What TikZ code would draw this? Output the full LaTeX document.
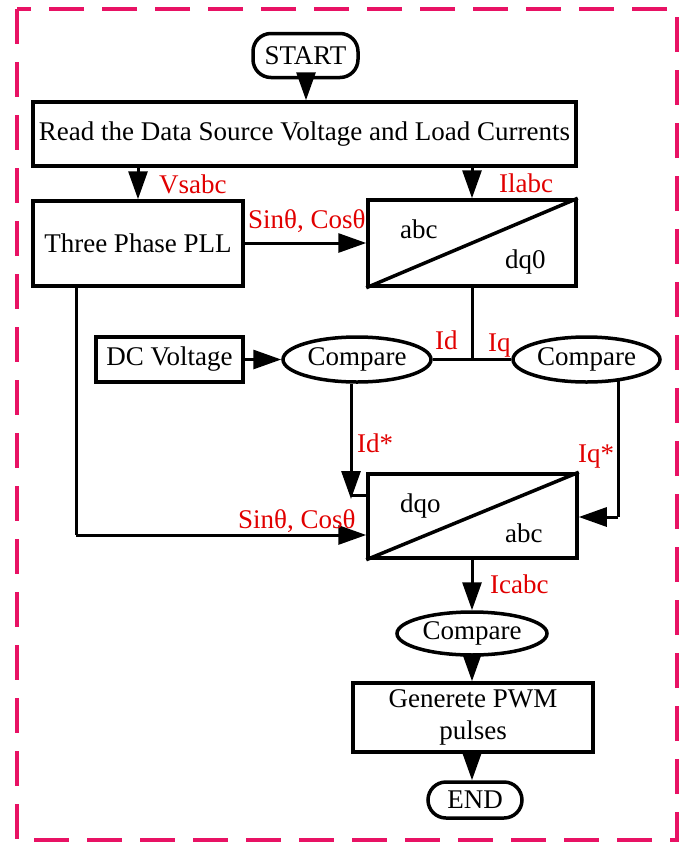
\documentclass[tikz,border=0pt]{standalone}
\usepackage{fontspec}
\setmainfont{Liberation Serif}
\usetikzlibrary{arrows.meta,shapes.geometric}
\definecolor{bordercol}{RGB}{232,18,100}
\definecolor{lblred}{RGB}{225,0,0}
\begin{document}
\begin{tikzpicture}[x=1pt,y=-1pt,
  every node/.style={font=\fontsize{27}{30}\selectfont},
  box/.style={draw,line width=3.5pt,rectangle,inner sep=0pt,align=center},
  term/.style={draw,line width=3.5pt,rectangle,rounded corners=18pt,inner sep=0pt},
  oval/.style={draw,line width=3.5pt,ellipse,inner sep=0pt},
  conn/.style={line width=3pt},
  arr/.style={line width=3pt,-{Triangle[length=28pt,width=19pt]}},
  lbl/.style={anchor=base west,inner sep=0pt,text=lblred},
  txt/.style={anchor=base west,inner sep=0pt},
]
\useasboundingbox (0,0) rectangle (683,849);
\draw[bordercol,line width=4pt,dash pattern=on 35pt off 18pt] (17,9) rectangle (677,840);

\node[term,minimum width=105pt,minimum height=44pt] (start) at (305.5,55.5) {START};
\node[box,minimum width=543pt,minimum height=64pt] (read) at (304.5,134) {Read the Data Source Voltage and Load Currents};
\node[box,minimum width=210pt,minimum height=85pt] (pll) at (138,243.5) {Three Phase PLL};
\node[box,minimum width=208pt,minimum height=86pt] (abc1) at (472,243) {};
\node[box,minimum width=147pt,minimum height=45pt] (dc) at (169.5,359.5) {DC Voltage};
\node[oval,minimum width=148pt,minimum height=45pt] (cmp1) at (357,359.5) {Compare};
\node[oval,minimum width=147pt,minimum height=45pt] (cmp2) at (586.5,359.5) {Compare};
\node[box,minimum width=209pt,minimum height=84pt] (abc2) at (472.5,516) {};
\node[oval,minimum width=150pt,minimum height=43pt] (cmp3) at (472,633.5) {Compare};
\node[box,minimum width=240pt,minimum height=69pt] (pwm) at (473,717.5) {Generete PWM\\[2pt]pulses};
\node[term,minimum width=94pt,minimum height=36pt] (end) at (475,800) {END};

% diagonals
\draw[line width=3.5pt] (abc1.south west) -- (abc1.north east);
\draw[line width=3.5pt] (abc2.south west) -- (abc2.north east);

% coordinates
\coordinate (xs) at (306,0);
\coordinate (xv) at (138,0);
\coordinate (xi) at (472,0);
\coordinate (jn) at (472,360);
\coordinate (pllx) at (76,535);
\coordinate (idk) at (351,499);
\coordinate (idstub) at (351,495);
\coordinate (iqk) at (618,517);
\coordinate (iqtop) at (618,378);

% connectors
\draw[arr] (start.south -| xs) -- (read.north -| xs);
\draw[arr] (read.south -| xv) -- (pll.north -| xv);
\draw[arr] (read.south -| xi) -- (abc1.north -| xi);
\draw[arr] (pll.east |- abc1) -- (abc1.west);
\draw[arr] (dc.east) -- (cmp1.west);
\draw[conn] (abc1.south -| jn) -- (jn);
\draw[conn] (cmp1.east) -- (cmp2.west);
\draw[arr] (cmp1.south -| idk) -- (idk);
\draw[conn] (idstub) -- (abc2.west |- idstub);
\draw[conn] (pll.south -| pllx) -- (pllx);
\draw[arr] (pllx) -- (abc2.west |- pllx);
\draw[conn] (iqtop) -- (iqk);
\draw[arr] (iqk) -- (abc2.east |- iqk);
\draw[arr] (abc2.south -| xi) -- (cmp3.north -| xi);
\draw[arr] (cmp3.south -| xi) -- (pwm.north -| xi);
\draw[arr] (pwm.south -| xi) -- (end.north -| xi);

% labels
\node[lbl] (lvs) at (159,193) {Vsabc};
\node[lbl] (lil) at (499,192) {Ilabc};
\node[lbl] (lsc1) at (248,228) {Sinθ, Cosθ};
\node[txt] (tabc1) at (400,238) {abc};
\node[txt] (tdq0) at (505,268) {dq0};
\node[lbl] (lid) at (435,349) {Id};
\node[lbl] (liq) at (488,351) {Iq};
\node[lbl] (lids) at (357,452) {Id*};
\node[lbl] (liqs) at (578,462) {Iq*};
\node[lbl] (lsc2) at (238,528) {Sinθ, Cosθ};
\node[txt] (tdqo) at (400,512) {dqo};
\node[txt] (tabc2) at (505,542) {abc};
\node[lbl] (lic) at (490,593) {Icabc};
\end{tikzpicture}
\end{document}
